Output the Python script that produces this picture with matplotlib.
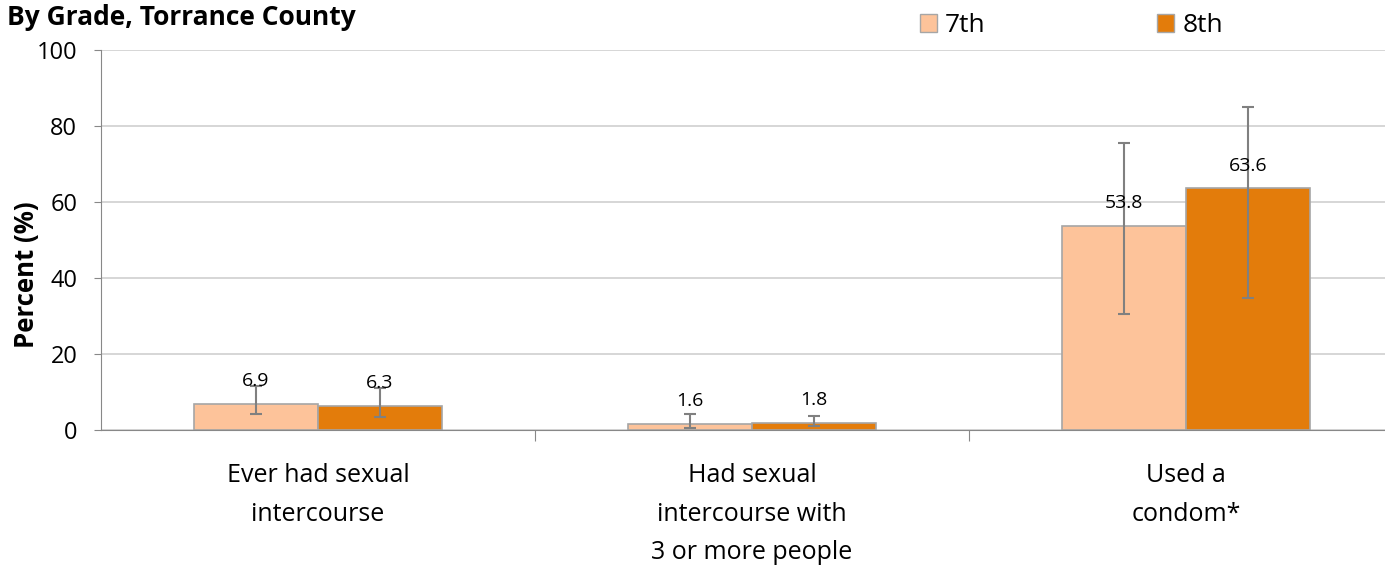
import numpy as np
import matplotlib
matplotlib.use('Agg')
import matplotlib.pyplot as plt
from matplotlib.patches import Patch

plt.rcParams['font.family'] = ['Open Sans', 'DejaVu Sans']

categories = ['Ever had sexual\nintercourse', 'Had sexual\nintercourse with\n3 or more people', 'Used a\ncondom*']
grades = ['7th', '8th']
vals_7 = [6.9, 1.6, 53.8]
vals_8 = [6.3, 1.8, 63.6]
lo_7 = [4.2, 0.6, 30.5]
hi_7 = [11.6, 4.2, 75.4]
lo_8 = [3.5, 1.0, 34.7]
hi_8 = [11.1, 3.6, 85.0]

c7 = '#fdc39a'
c8 = '#e37c0b'

fig = plt.figure(figsize=(13.85, 5.65), dpi=100)
# axes runs a little past the right edge of the figure, as in the original
ax = fig.add_axes([0.0729, 0.2389, 0.940, 0.6726])

x = np.arange(len(categories))
w = 0.286
for vals, lo, hi, col, off in [(vals_7, lo_7, hi_7, c7, -w / 2), (vals_8, lo_8, hi_8, c8, w / 2)]:
    vals = np.array(vals)
    err = [vals - np.array(lo), np.array(hi) - vals]
    ax.bar(x + off, vals, w, color=col, edgecolor='#a6a6a6', linewidth=1.2, zorder=2)
    ax.errorbar(x + off, vals, yerr=err, fmt='none', ecolor='#808080', elinewidth=1.5,
                capsize=4.5, capthick=1.5, zorder=3)
    for xi, v in zip(x + off, vals):
        ax.text(xi, v + 6, f'{v:.1f}', ha='center', va='center', fontsize=14, zorder=4)

ax.set_xlim(-0.5, 2.5)
ax.set_ylim(0, 100)
ax.set_yticks(np.arange(0, 101, 20))
ax.yaxis.grid(True, color='#d0d0d0', linewidth=1.2, zorder=0)
ax.set_axisbelow(True)
for s in ['top', 'right']:
    ax.spines[s].set_visible(False)
ax.spines['left'].set_color('#888888')
ax.spines['bottom'].set_color('#888888')
ax.tick_params(axis='y', labelsize=17, color='#888888', length=5, pad=12)

ax.set_xticks([0.5, 1.5])
ax.set_xticklabels([])
ax.tick_params(axis='x', color='#888888', length=8, direction='out')
for xi, lab in zip(x, categories):
    ax.text(xi, -8.6, lab, ha='center', va='top', fontsize=18, linespacing=1.73,
            transform=ax.transData)

# y label placed directly on the figure
fig.text(27 / 1385, 1 - 275 / 565, 'Percent (%)', fontsize=18.5, fontweight='bold',
         rotation=90, ha='center', va='center')

fig.text(0.005, 0.993, 'By Grade, Torrance County', fontsize=19, fontweight='bold', va='top', ha='left')

handles = [Patch(facecolor=c7, edgecolor='#a6a6a6'), Patch(facecolor=c8, edgecolor='#a6a6a6')]
fig.legend(handles, grades, loc='center left', bbox_to_anchor=(920 / 1385, 1 - 26 / 565), ncol=2,
           frameon=False, fontsize=19, handlelength=0.65, handleheight=0.65, handletextpad=0.3,
           columnspacing=6.5, borderaxespad=0, borderpad=0)

fig.savefig('out.png', dpi=100)
